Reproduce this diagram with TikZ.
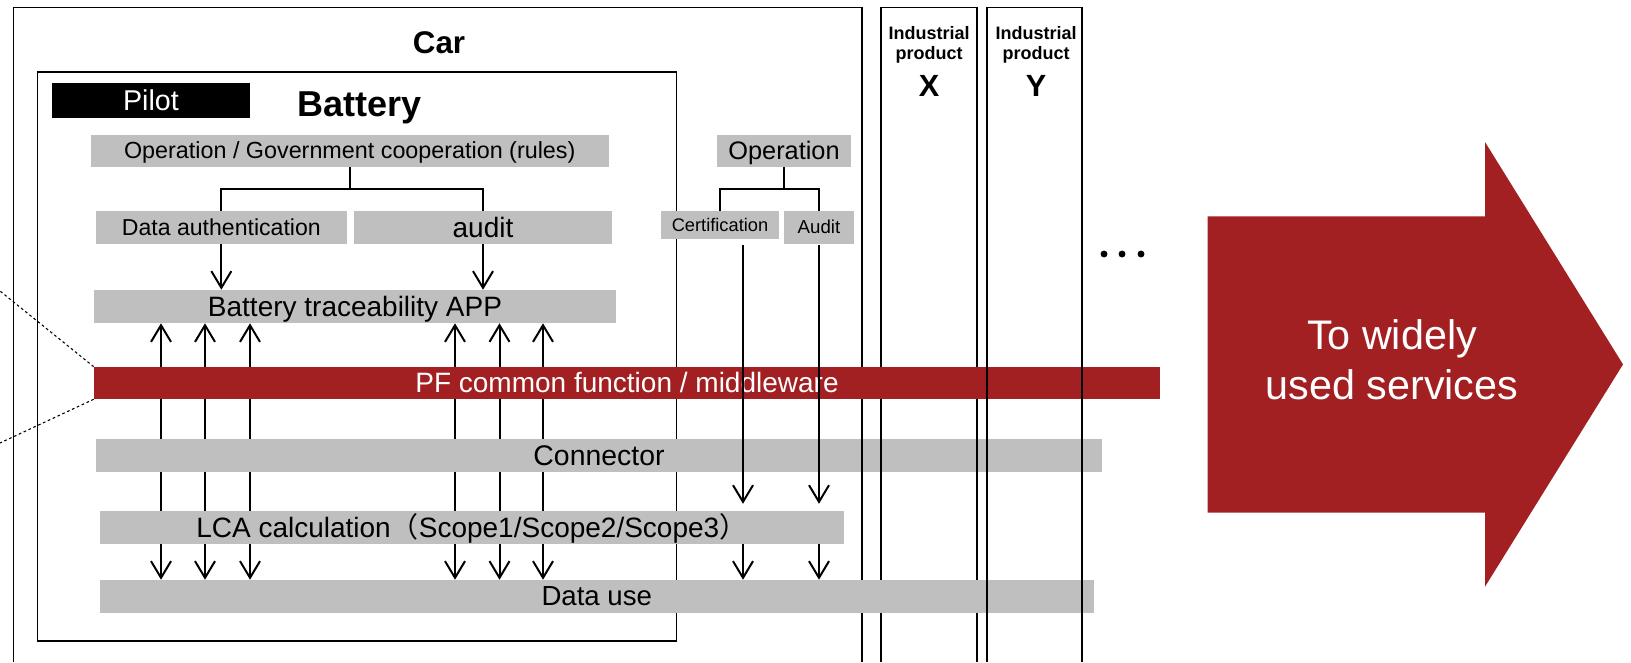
\documentclass[tikz,border=0pt]{standalone}
\usepackage{fontspec}
\setmainfont{Liberation Sans}
\newfontfamily\cjk{Noto Sans CJK JP}
\usetikzlibrary{arrows.meta}
\definecolor{barred}{RGB}{162,31,34}
\definecolor{bargray}{RGB}{191,191,191}
\newcommand\fsz[1]{\fontsize{#1pt}{#1pt}\selectfont}
\pgfdeclarelayer{back}
\pgfdeclarelayer{conn}
\pgfdeclarelayer{frames}
\pgfdeclarelayer{front}
\pgfsetlayers{back,conn,frames,main,front}
\tikzset{
  barb/.tip={Straight Barb[length=12.5pt,width=15pt]},
}
\begin{document}
\begin{tikzpicture}[x=0.75pt,y=-0.75pt,
  gbox/.style={fill=bargray, inner sep=0pt},
  rbox/.style={fill=barred, text=white, inner sep=0pt},
  % a box given by its left, top, right and bottom edges (in px);
  % the strut gives every line the same ascent and descent
  span/.style n args={4}{at={({(#1+#3)/2},{(#2+#4)/2})}, anchor=center,
     minimum width={(#3-#1)*0.75pt}, minimum height={(#4-#2)*0.75pt},
     execute at begin node={\vrule width 0pt height 0.905em depth 0.212em\relax}},
  frame/.style={draw=black, line width=0.8pt},
  tree/.style={draw=black, line width=1.3pt},
  arr/.style={draw=black, line width=1.5pt, -barb},
  dblarr/.style={draw=black, line width=1.5pt, barb-barb},
  lbl/.style={inner sep=0pt, anchor=base},
  dashline/.style={draw=black, line width=0.8pt, dash pattern=on 2pt off 2pt},
]
\useasboundingbox (0,0) rectangle (1631,662);

% --- boxes of the battery stack
\node[fill=black, text=white, inner sep=0pt, span={52}{83}{250}{117.5}, font=\fsz{21.5}] (pilot) {Pilot};
\node[gbox, span={91}{134.5}{608.5}{166.5}, font=\fsz{17.5}] (opgov) {Operation / Government cooperation (rules)};
\node[gbox, span={95.7}{211}{347}{243.7}, font=\fsz{17.3}] (dauth) {Data authentication};
\node[gbox, span={354}{211}{612}{243.7}, font=\fsz{21}] (audit) {audit};
\node[gbox, span={94}{290}{616}{323}, font=\fsz{21}] (app) {Battery traceability APP};
\node[gbox, span={717}{134.5}{851}{166.5}, font=\fsz{19}] (oper) {Operation};
\node[gbox, span={661}{211}{779}{239}, font=\fsz{13.7}] (cert) {Certification};
\node[gbox, span={784}{211}{854}{244}, font=\fsz{14}] (audr) {Audit};
\node[rbox, span={94}{367}{1160}{399}, font=\fsz{21}] (pf) {PF common function / middleware};
\node[gbox, span={100}{511}{843.6}{543.7}, font=\fsz{21}] (lca) {LCA calculation{\cjk （}Scope1/Scope2/Scope3{\cjk ）}};
\node[gbox, span={100}{580}{1093.5}{612.7}, font=\fsz{20.7}] (datause) {Data use};
\begin{pgfonlayer}{conn}
\node[gbox, span={96}{439.3}{1102}{471.7}, font=\fsz{21.3}] (conn) {Connector};
\end{pgfonlayer}

% --- titles
\node[lbl, font=\bfseries\fsz{23.5}] (car) at (439,53) {Car};
\node[lbl, font=\bfseries\fsz{27}] (battery) at (360,116) {Battery};
\node[lbl, font=\bfseries\fsz{13.5}] (ix1) at (929,39) {Industrial};
\node[lbl, font=\bfseries\fsz{13.5}] (ix2) at (929,59) {product};
\node[lbl, font=\bfseries\fsz{23}] (ix3) at (929,96) {X};
\node[lbl, font=\bfseries\fsz{13.5}] (iy1) at (1036,39) {Industrial};
\node[lbl, font=\bfseries\fsz{13.5}] (iy2) at (1036,59) {product};
\node[lbl, font=\bfseries\fsz{23}] (iy3) at (1036,96) {Y};

% --- frames
\begin{pgfonlayer}{back}
\draw[frame] (37.5,72) rectangle (676.5,641);
\end{pgfonlayer}
\begin{pgfonlayer}{frames}
\draw[frame] (13.5,662) -- (13.5,7.5) -- (862,7.5) -- (862,662);
\draw[frame] (881,662) -- (881,7.5) -- (977,7.5) -- (977,662);
\end{pgfonlayer}
\begin{pgfonlayer}{front}
\draw[frame] (987,662) -- (987,7.5) -- (1082,7.5) -- (1082,662);
\end{pgfonlayer}

% --- rule trees
\coordinate (j1) at ([yshift=-16.7pt]opgov.south);
\draw[tree] (opgov.south) -- (j1);
\draw[tree] (dauth.north) |- (j1) -| (audit.north);
\draw[arr] (dauth.south) -- (dauth.south |- app.north);
\draw[arr] (audit.south) -- (audit.south |- app.north);

\coordinate (j2) at ([yshift=-16.7pt]oper.south);
\draw[tree] (oper.south) -- (j2);
\draw[tree] (cert.north) |- (j2) -| (audr.north);

% --- certification and audit flows
\coordinate (cx) at (743,0);
\coordinate (ax) at (819,0);
\begin{pgfonlayer}{front}
\draw[arr, shorten <=4.5pt, shorten >=5.2pt] (cert.south -| cx) -- (lca.north -| cx);
\draw[arr, shorten <=0.75pt, shorten >=5.2pt] (audr.south -| ax) -- (lca.north -| ax);
\draw[arr] (lca.south -| cx) -- (datause.north -| cx);
\draw[arr] (lca.south -| ax) -- (datause.north -| ax);
\end{pgfonlayer}

% --- data exchange between the application and data use
\begin{pgfonlayer}{back}
\foreach \n/\xx in {1/161,2/205,3/250,4/455,5/499.5,6/543} {
  \coordinate (v\n) at (\xx,0);
  \draw[dblarr] (app.south -| v\n) -- (datause.north -| v\n);
}
\end{pgfonlayer}

% --- zoom lines to the left
\coordinate (dA) at (0,291);
\coordinate (dB) at (0,443);
\draw[dashline] (pf.north west) -- (dA);
\draw[dashline] (pf.south west) -- (dB);

% --- ellipsis
\fill (1104,254) circle[radius=2.6pt];
\fill (1122,254) circle[radius=2.6pt];
\fill (1141,254) circle[radius=2.6pt];

% --- big arrow
\fill[barred] (1207.6,216.4) -- (1485,216.4) -- (1485,142) -- (1623,364.4)
  -- (1485,586.7) -- (1485,512.7) -- (1207.6,512.7) -- cycle;
\node[text=white, align=center, inner sep=0pt,
      font={\fontsize{31pt}{37.5pt}\selectfont}] (wide) at (1392,360) {To widely\\used services};
\end{tikzpicture}
\end{document}
